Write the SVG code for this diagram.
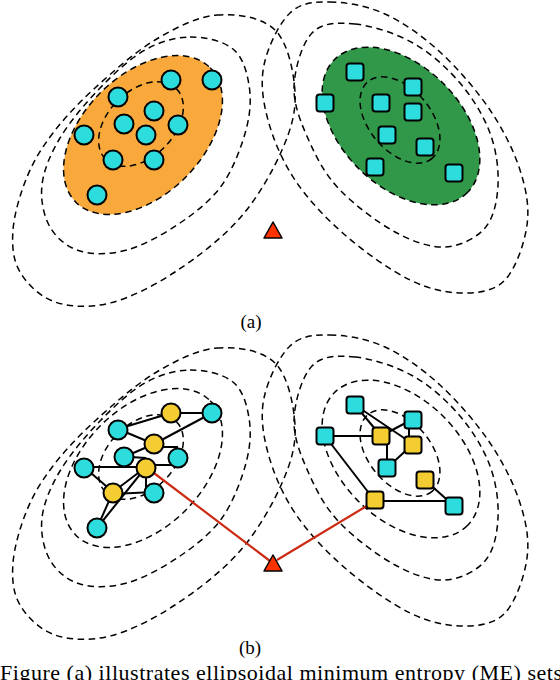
<svg xmlns="http://www.w3.org/2000/svg" xmlns:xlink="http://www.w3.org/1999/xlink" width="560" height="680" viewBox="0 0 560 680">
<style>
.c{fill:none;stroke:#000;stroke-width:1.5;stroke-dasharray:6.5 4.5}
.cy{fill:#2ddcdc;stroke:#000;stroke-width:2}
.yl{fill:#f4cd32;stroke:#000;stroke-width:2}
.e{stroke:#000;stroke-width:2;fill:none}
.r{stroke:#cc2a12;stroke-width:2.2;fill:none}
.tri{fill:#ff3300;stroke:#000;stroke-width:1.5;stroke-linejoin:round}
.t{font-family:"Liberation Serif","Times New Roman",serif;fill:#000}
</style>
<defs>
<g id="contours">
<path class="c" d="M217,15 C237,13.3 262,17.2 275,30 C288,42.8 293.8,72 295,92 C296.2,112 291.2,129 282,150 C272.8,171 257.8,197.7 240,218 C222.2,238.3 196.7,257.8 175,272 C153.3,286.2 130,298 110,303 C90,308 70,307.2 55,302 C40,296.8 27,284 20,272 C13,260 11.8,245.8 13,230 C14.2,214.2 20.3,193.2 27,177 C33.7,160.8 41.7,147.8 53,133 C64.3,118.2 78,103.5 95,88 C112,72.5 134.7,52.2 155,40 C175.3,27.8 197,16.7 217,15 Z"/>
<path class="c" d="M190,37 C204.7,36.8 223.2,41 233,49 C242.8,57 246.8,71.5 249,85 C251.2,98.5 250.5,113.3 246,130 C241.5,146.7 233,169.5 222,185 C211,200.5 195.8,212.2 180,223 C164.2,233.8 143.7,245.3 127,250 C110.3,254.7 92.8,254.8 80,251 C67.2,247.2 56.3,238 50,227 C43.7,216 40.3,199.8 42,185 C43.7,170.2 50.3,154.2 60,138 C69.7,121.8 85.8,102.7 100,88 C114.2,73.3 130,58.5 145,50 C160,41.5 175.3,37.2 190,37 Z"/>
<path class="c" d="M330,2 C345.8,2.2 366.7,5.7 385,14 C403.3,22.3 422.5,36 440,52 C457.5,68 476.7,90.3 490,110 C503.3,129.7 513.8,150.8 520,170 C526.2,189.2 529.5,206.7 527,225 C524.5,243.3 515.7,268.7 505,280 C494.3,291.3 478.8,293 463,293 C447.2,293 429.7,289.7 410,280 C390.3,270.3 364.2,251.7 345,235 C325.8,218.3 307.8,199.2 295,180 C282.2,160.8 273.2,139.2 268,120 C262.8,100.8 260.3,82.8 264,65 C267.7,47.2 279,23.5 290,13 C301,2.5 314.2,1.8 330,2 Z"/>
<path class="c" d="M355,24 C371.8,25.7 395.5,33.2 413,43 C430.5,52.8 447.2,68 460,83 C472.8,98 483.7,116 490,133 C496.3,150 498.8,169.2 498,185 C497.2,200.8 493.8,217.7 485,228 C476.2,238.3 460,246.3 445,247 C430,247.7 412.5,241.5 395,232 C377.5,222.5 354.2,204.8 340,190 C325.8,175.2 317.7,160 310,143 C302.3,126 293.7,106.3 294,88 C294.3,69.7 301.8,43.7 312,33 C322.2,22.3 338.2,22.3 355,24 Z"/>
</g>
</defs>

<!-- Panel (a) -->
<g id="contours-a">
<use xlink:href="#contours"/>
<ellipse id="set-orange" cx="143" cy="135" rx="95" ry="60" transform="rotate(-45 143 135)" class="c" style="fill:#f9a93b"/>
<ellipse id="set-green" cx="401" cy="126" rx="94" ry="60" transform="rotate(45 401 126)" class="c" style="fill:#31984a"/>
<ellipse class="c" cx="141" cy="124" rx="50" ry="33" transform="rotate(-45 141 124)"/>
<ellipse class="c" cx="400" cy="120" rx="50" ry="31" transform="rotate(50 400 120)"/>
</g>
<g id="a-c1"><circle class="cy" cx="171" cy="80" r="9.5"/></g>
<g id="a-c2"><circle class="cy" cx="212" cy="80" r="9.5"/></g>
<g id="a-c3"><circle class="cy" cx="118" cy="97" r="9.5"/></g>
<g id="a-c4"><circle class="cy" cx="154" cy="111" r="9.5"/></g>
<g id="a-c5"><circle class="cy" cx="124" cy="124" r="9.5"/></g>
<g id="a-c6"><circle class="cy" cx="178" cy="125" r="9.5"/></g>
<g id="a-c7"><circle class="cy" cx="146" cy="135" r="9.5"/></g>
<g id="a-c8"><circle class="cy" cx="84" cy="135" r="9.5"/></g>
<g id="a-c9"><circle class="cy" cx="113" cy="160" r="9.5"/></g>
<g id="a-c10"><circle class="cy" cx="154" cy="160" r="9.5"/></g>
<g id="a-c11"><circle class="cy" cx="97" cy="195" r="9.5"/></g>
<g id="a-s1"><rect class="cy" x="346.5" y="63.5" width="17" height="17" rx="3"/></g>
<g id="a-s2"><rect class="cy" x="316.5" y="94.5" width="17" height="17" rx="3"/></g>
<g id="a-s3"><rect class="cy" x="372.5" y="94.5" width="17" height="17" rx="3"/></g>
<g id="a-s4"><rect class="cy" x="404.5" y="78.5" width="17" height="17" rx="3"/></g>
<g id="a-s5"><rect class="cy" x="404.5" y="103.5" width="17" height="17" rx="3"/></g>
<g id="a-s6"><rect class="cy" x="378.5" y="126.5" width="17" height="17" rx="3"/></g>
<g id="a-s7"><rect class="cy" x="416.5" y="138.5" width="17" height="17" rx="3"/></g>
<g id="a-s8"><rect class="cy" x="366.5" y="158.5" width="17" height="17" rx="3"/></g>
<g id="a-s9"><rect class="cy" x="445.5" y="164.5" width="17" height="17" rx="3"/></g>
<g id="a-query"><polygon class="tri" points="273,222 282,238 264,238"/></g>
<text class="t" x="251" y="328" font-size="19" text-anchor="middle">(a)</text>

<!-- Panel (b) -->
<g id="contours-b">
<use xlink:href="#contours" transform="translate(0,333)"/>
<ellipse class="c" cx="143" cy="468" rx="95" ry="60" transform="rotate(-45 143 468)"/>
<ellipse class="c" cx="401" cy="459" rx="94" ry="60" transform="rotate(45 401 459)"/>
<ellipse class="c" cx="141" cy="457" rx="50" ry="33" transform="rotate(-45 141 457)"/>
<ellipse class="c" cx="400" cy="453" rx="50" ry="31" transform="rotate(50 400 453)"/>
</g>
<g id="edges-b">
<line class="e" x1="118" y1="429" x2="171" y2="413"/>
<line class="e" x1="171" y1="413" x2="212" y2="413"/>
<line class="e" x1="212" y1="413" x2="154" y2="444"/>
<line class="e" x1="118" y1="429" x2="154" y2="444"/>
<line class="e" x1="154" y1="444" x2="124" y2="457"/>
<line class="e" x1="154" y1="447" x2="178" y2="447"/>
<line class="e" x1="131" y1="457" x2="146" y2="458"/>
<line class="e" x1="84" y1="467" x2="146" y2="467"/>
<line class="e" x1="146" y1="465" x2="172" y2="465"/>
<line class="e" x1="146" y1="467" x2="113" y2="492"/>
<line class="e" x1="146" y1="467" x2="146" y2="490"/>
<line class="e" x1="84" y1="467" x2="113" y2="492"/>
<line class="e" x1="113" y1="494" x2="154" y2="492"/>
<line class="e" x1="113" y1="492" x2="97" y2="528"/>
<line class="e" x1="146" y1="467" x2="97" y2="528"/>
<line class="e" x1="355" y1="405" x2="381" y2="436"/>
<line class="e" x1="355" y1="405" x2="413" y2="444"/>
<line class="e" x1="381" y1="436" x2="413" y2="419"/>
<line class="e" x1="409" y1="419" x2="409" y2="444"/>
<line class="e" x1="325" y1="436" x2="381" y2="436"/>
<line class="e" x1="387" y1="436" x2="387" y2="468"/>
<line class="e" x1="413" y1="444" x2="387" y2="468"/>
<line class="e" x1="325" y1="436" x2="375" y2="501"/>
<line class="e" x1="375" y1="501" x2="454" y2="501"/>
<line class="e" x1="425" y1="480" x2="454" y2="506"/>
<line class="r" x1="146" y1="467" x2="270" y2="561"/>
<line class="r" x1="375" y1="501" x2="277" y2="560"/>
</g>
<g id="b-c1"><circle class="cy" cx="118" cy="430" r="9.5"/></g>
<g id="b-y1"><circle class="yl" cx="171" cy="413" r="9.5"/></g>
<g id="b-c2"><circle class="cy" cx="212" cy="413" r="9.5"/></g>
<g id="b-y2"><circle class="yl" cx="154" cy="444" r="9.5"/></g>
<g id="b-c3"><circle class="cy" cx="124" cy="457" r="9.5"/></g>
<g id="b-c4"><circle class="cy" cx="178" cy="458" r="9.5"/></g>
<g id="b-c5"><circle class="cy" cx="84" cy="468" r="9.5"/></g>
<g id="b-y3"><circle class="yl" cx="146" cy="468" r="9.5"/></g>
<g id="b-y4"><circle class="yl" cx="113" cy="493" r="9.5"/></g>
<g id="b-c6"><circle class="cy" cx="154" cy="493" r="9.5"/></g>
<g id="b-c7"><circle class="cy" cx="97" cy="528" r="9.5"/></g>
<g id="b-s1"><rect class="cy" x="346.5" y="396.5" width="17" height="17" rx="3"/></g>
<g id="b-s2"><rect class="cy" x="316.5" y="427.5" width="17" height="17" rx="3"/></g>
<g id="b-s3"><rect class="yl" x="372.5" y="427.5" width="17" height="17" rx="3"/></g>
<g id="b-s4"><rect class="cy" x="404.5" y="411.5" width="17" height="17" rx="3"/></g>
<g id="b-s5"><rect class="yl" x="404.5" y="436.5" width="17" height="17" rx="3"/></g>
<g id="b-s6"><rect class="cy" x="378.5" y="459.5" width="17" height="17" rx="3"/></g>
<g id="b-s7"><rect class="yl" x="416.5" y="471.5" width="17" height="17" rx="3"/></g>
<g id="b-s8"><rect class="yl" x="366.5" y="491.5" width="17" height="17" rx="3"/></g>
<g id="b-s9"><rect class="cy" x="445.5" y="497.5" width="17" height="17" rx="3"/></g>
<g id="b-query"><polygon class="tri" points="273,555 282,571 264,571"/></g>
<text class="t" x="250" y="654" font-size="19" text-anchor="middle">(b)</text>

<text class="t" x="0" y="680" font-size="22" textLength="562" lengthAdjust="spacing">Figure (a) illustrates ellipsoidal minimum entropy (ME) sets</text>
</svg>
